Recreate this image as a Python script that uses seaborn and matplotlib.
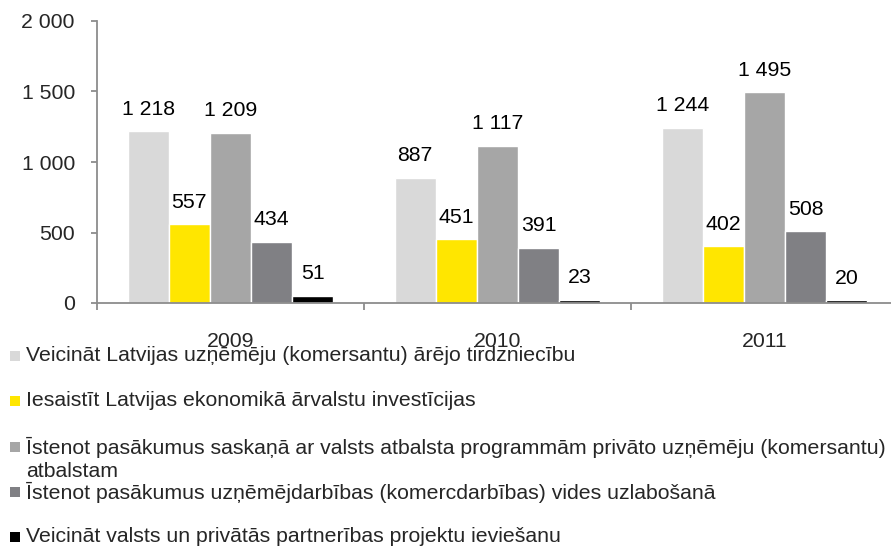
import pandas as pd
import matplotlib.pyplot as plt
import seaborn as sns
from matplotlib.patches import Rectangle

# Dati
gadi = ["2009", "2010", "2011"]
virzieni = [
    "Veicināt Latvijas uzņēmēju (komersantu) ārējo tirdzniecību",
    "Iesaistīt Latvijas ekonomikā ārvalstu investīcijas",
    "Īstenot pasākumus saskaņā ar valsts atbalsta programmām privāto uzņēmēju (komersantu)\natbalstam",
    "Īstenot pasākumus uzņēmējdarbības (komercdarbības) vides uzlabošanā",
    "Veicināt valsts un privātās partnerības projektu ieviešanu",
]
arejo_tirdzniecibu = [1218, 887, 1244]
investicijas = [557, 451, 402]
atbalsta_programmas = [1209, 1117, 1495]
vides_uzlabosana = [434, 391, 508]
ppp_projekti = [51, 23, 20]

krasas = ["#D9D9D9", "#FFE600", "#A6A6A6", "#808084", "#000000"]

rindas = []
for nosaukums, vertibas in zip(virzieni, [arejo_tirdzniecibu, investicijas, atbalsta_programmas,
                                          vides_uzlabosana, ppp_projekti]):
    for gads, v in zip(gadi, vertibas):
        rindas.append({"Gads": gads, "Virziens": nosaukums, "Vērtība": v})
df = pd.DataFrame(rindas)

# Stils
sns.set_theme(style="white")
plt.rcParams["font.family"] = ["Liberation Sans", "DejaVu Sans"]
fs = 15.3

fig = plt.figure(figsize=(8.91, 5.46), dpi=100)
ax = fig.add_axes([97 / 891, 1 - 303 / 546, 801 / 891, 282 / 546])

sns.barplot(
    data=df, x="Gads", y="Vērtība", hue="Virziens",
    palette=krasas, saturation=1, width=0.77, gap=0,
    legend=False, ax=ax,
)

# Vērtības virs stabiņiem
for cont in ax.containers:
    ax.bar_label(cont, labels=[f"{int(b.get_height()):,}".replace(",", " ") for b in cont],
                 padding=9, fontsize=fs, color="black")

ax.set_ylim(0, 2000)
ax.set_yticks([0, 500, 1000, 1500, 2000])
ax.set_yticklabels([f"{t:,}".replace(",", " ") for t in [0, 500, 1000, 1500, 2000]])
ax.set_xlim(-0.5, 2.5)
ax.set_xticks([-0.5, 0.5, 1.5, 2.5])
ax.set_xticklabels([])
ax.set_xticks([0, 1, 2], minor=True)
ax.set_xticklabels(gadi, minor=True)
ax.set_xlabel("")
ax.set_ylabel("")

asu_krasa = "#8C8C8C"
for s in ["top", "right"]:
    ax.spines[s].set_visible(False)
for s in ["left", "bottom"]:
    ax.spines[s].set_color(asu_krasa)
    ax.spines[s].set_linewidth(1.3)
ax.tick_params(axis="y", which="major", direction="out", length=4, width=1.3,
               color=asu_krasa, labelsize=fs, pad=12, left=True)
ax.tick_params(axis="x", which="major", direction="out", length=5, width=1.3,
               color=asu_krasa, bottom=True)
ax.tick_params(axis="x", which="minor", length=0, labelsize=fs, pad=21, bottom=True)

# Leģenda
rindu_y = [355.5, 401, 447, 492, 537]
for nosaukums, krasa, y in zip(virzieni, krasas, rindu_y):
    fig.patches.append(Rectangle((10 / 891, 1 - (y + 5) / 546), 10 / 891, 10 / 546,
                                 transform=fig.transFigure, facecolor=krasa,
                                 edgecolor="none"))
    if "\n" in nosaukums:
        fig.text(26 / 891, 1 - (y - 10) / 546, nosaukums, fontsize=fs, va="top",
                 linespacing=1.23)
    else:
        fig.text(26 / 891, 1 - y / 546, nosaukums, fontsize=fs, va="center")

fig.savefig("out.png", dpi=100)
